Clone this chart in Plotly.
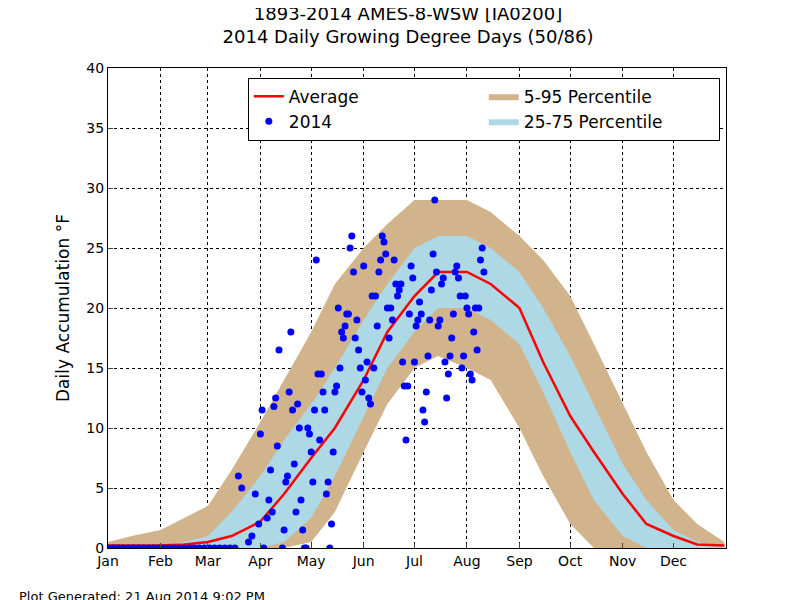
import plotly.graph_objects as go

month_ticks = [1, 32, 60, 91, 121, 152, 182, 213, 244, 274, 305, 335]
month_labels = ["Jan","Feb","Mar","Apr","May","Jun","Jul","Aug","Sep","Oct","Nov","Dec"]

# climatology sampled semi-monthly (day of year)
clim_doy = [1, 15, 32, 46, 60, 74, 91, 105, 121, 135, 152, 166, 182, 196, 213, 227, 244, 258, 274, 288, 305, 319, 335, 349, 365]
avg  = [0.2, 0.2, 0.2, 0.3, 0.5, 1.0, 2.2, 4.5, 7.5, 10.0, 14.0, 18.0, 21.0, 23.0, 23.0, 22.0, 20.0, 15.5, 11.0, 8.0, 4.5, 2.0, 1.0, 0.3, 0.2]
p05  = [0, 0, 0, 0, 0, 0, 0, 0, 0.5, 3.0, 8.0, 12.0, 15.0, 16.0, 15.0, 14.0, 10.0, 6.0, 2.0, 0, 0, 0, 0, 0, 0]
p25  = [0, 0, 0, 0, 0, 0, 0, 0.5, 2.5, 6.0, 11.0, 15.0, 18.0, 20.0, 20.0, 19.0, 17.0, 13.0, 8.0, 4.0, 1.0, 0, 0, 0, 0]
p75  = [0, 0, 0.2, 0.5, 1.0, 3.0, 6.0, 9.0, 12.0, 15.0, 19.0, 22.0, 25.0, 26.0, 26.0, 25.0, 23.0, 20.0, 16.0, 12.0, 7.0, 4.0, 1.5, 0.5, 0.2]
p95  = [0.5, 1.0, 1.5, 2.5, 3.5, 6.5, 10.5, 14.0, 18.0, 22.0, 25.0, 27.0, 29.0, 29.0, 29.0, 28.0, 26.0, 24.0, 21.0, 17.0, 12.0, 8.0, 4.0, 2.0, 0.5]

obs_doy = [1,4,7,10,13,16,19,22,25,28,31,34,37,40,43,46,49,52,55,58,61,64,67,70,73,76,
           78,80,84,86,88,90,91,92,93,95,96,97,98,99,100,101,102,104,105,106,107,108,109,110,
           111,112,113,114,115,116,117,118,119,120,121,122,123,124,125,126,127,128,129,130,
           131,132,133,134,135,136,137,138,139,140,141,142,143,144,145,146,147,148,149,150,
           151,152,153,154,155,156,157,158,159,160,161,162,163,164,165,166,167,168,169,170,
           171,172,173,174,175,176,177,178,179,180,181,182,183,184,185,186,187,188,189,190,
           191,192,193,194,195,196,197,198,199,200,201,202,203,204,205,206,207,208,209,210,
           211,212,213,214,215,216,217,218,219,220,221,222,223]
obs_val = [0,0,0,0,0,0,0,0,0,0,0,0,0,0,0,0,0,0,0,0,0,0,0,0,0,0,
           6,5,0.5,1,4.5,2,9.5,11.5,0,2.5,4,6.5,3,11.8,12.5,8.5,16.5,0,1.5,5.5,6,13,18,11.5,
           7,3,12,10,4,1.5,0,0,10,9.5,8,5.5,11.5,24,14.5,9,14.5,13,11.5,4.5,
           5.5,0,2,8,13,13.5,20,15,18,17.5,18.5,19.5,19.5,25,26,23,17.5,19,16.5,15,
           13,23.5,14,15.5,12.5,12,21,15,21,18.5,23,24,26,25.5,24.5,20,17.5,20,19,24,
           22,21,21.5,22,15.5,13.5,9,13.5,19.5,23.5,22.5,15.5,18.5,19,20.5,19.5,11.5,10.5,13,16,
           19,21.5,24.5,29,23,18.5,19,22,22.5,15.5,12.5,14.5,16,17.5,19.5,23,23.5,22.5,21,15,
           16,21,20,19.5,14.5,14,18,20,16.5,20,24,25,23]

fig = go.Figure()
fig.add_trace(go.Scatter(x=clim_doy, y=p05, mode="lines", line=dict(width=0), showlegend=False, hoverinfo="skip"))
fig.add_trace(go.Scatter(x=clim_doy, y=p95, mode="lines", line=dict(width=0), fill="tonexty",
                         fillcolor="#D2B48C", name="5-95 Percentile", legendrank=2))
fig.add_trace(go.Scatter(x=clim_doy, y=p25, mode="lines", line=dict(width=0), showlegend=False, hoverinfo="skip"))
fig.add_trace(go.Scatter(x=clim_doy, y=p75, mode="lines", line=dict(width=0), fill="tonexty",
                         fillcolor="#ADD8E6", name="25-75 Percentile", legendrank=4))
fig.add_trace(go.Scatter(x=clim_doy, y=avg, mode="lines", line=dict(color="red", width=2.5),
                         name="Average", legendrank=1))
fig.add_trace(go.Scatter(x=obs_doy, y=obs_val, mode="markers", marker=dict(color="blue", size=7),
                         name="2014", legendrank=3))

fig.update_layout(
    width=800, height=600, paper_bgcolor="white", plot_bgcolor="white",
    margin=dict(l=100, r=82, t=60, b=60, autoexpand=False),
    font=dict(family="DejaVu Sans", color="black", size=14),
    title=dict(text="1893-2014 AMES-8-WSW [IA0200]<br>2014 Daily Growing Degree Days (50/86)",
               x=0.5, xanchor="center", y=0.98, yanchor="top", font=dict(size=18), automargin=False),
    xaxis=dict(range=[1, 366], tickvals=month_ticks, ticktext=month_labels, showgrid=True,
               gridcolor="black", griddash="dot", gridwidth=0.5, showline=True, linecolor="black",
               mirror=True, ticks="inside", zeroline=False, automargin=False),
    yaxis=dict(range=[0, 40], dtick=5, showgrid=True, gridcolor="black", griddash="dot", gridwidth=0.5,
               showline=True, linecolor="black", mirror=True, ticks="inside", zeroline=False,
               automargin=False, title=dict(text="Daily Accumulation °F", standoff=12)),
    legend=dict(orientation="h", x=0.99, xanchor="right", y=0.98, yanchor="top", traceorder="normal",
                entrywidth=190, bordercolor="black", borderwidth=1, bgcolor="white",
                font=dict(size=17)),
    annotations=[dict(text="Plot Generated: 21 Aug 2014 9:02 PM", xref="paper", yref="paper",
                      x=-0.147, y=-0.1, xanchor="left", yanchor="middle", showarrow=False,
                      font=dict(size=13))],
)
fig.write_html("out.html")
